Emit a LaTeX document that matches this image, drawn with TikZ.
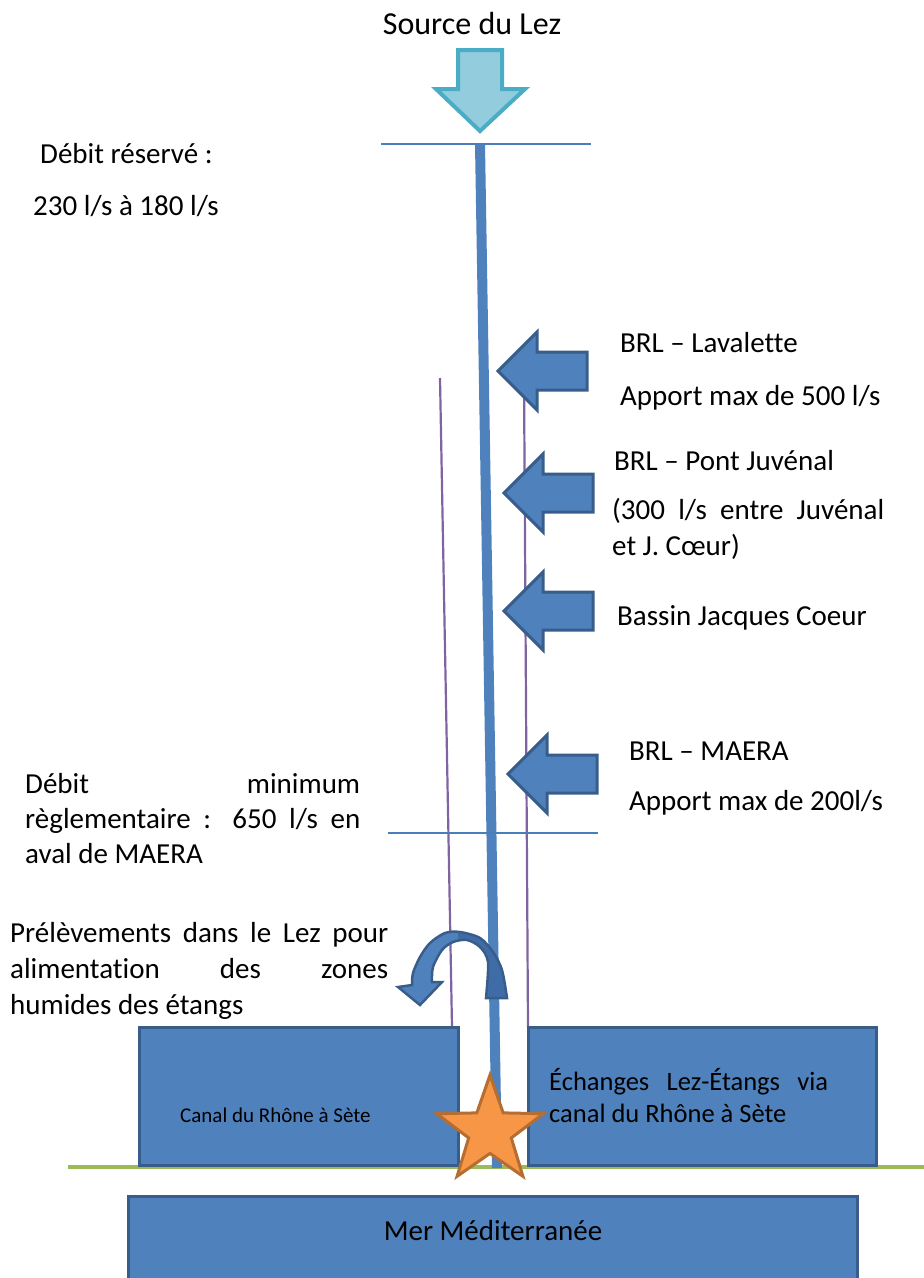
\documentclass[tikz,border=0pt]{standalone}
\usepackage{fontspec}
\setmainfont{Carlito}[Ligatures=NoCommon]
\usetikzlibrary{shapes.geometric}
\definecolor{bfill}{HTML}{4F81BD}
\definecolor{bline}{HTML}{385D8A}
\definecolor{lfill}{HTML}{93CDDD}
\definecolor{lline}{HTML}{4BACC6}
\definecolor{purp}{HTML}{8064A2}
\definecolor{grn}{HTML}{9BBB59}
\definecolor{orfill}{HTML}{F79646}
\definecolor{orline}{HTML}{B66D31}
\definecolor{hline}{HTML}{4A7EBB}
\definecolor{curvdark}{HTML}{3F6CA6}
\tikzset{
  txt/.style={anchor=base west, inner sep=0pt, font=\fontsize{29}{35}\selectfont},
  boxshape/.style={fill=bfill, draw=bline, line width=3pt},
  arrowfill/.style={fill=bfill, draw=bline, line width=3pt, line join=miter},
  pics/blockarrow/.style={code={
    \draw[arrowfill] (0,0) -- (39,-39) -- (39,-19) -- (89,-19) -- (89,19) -- (39,19) -- (39,39) -- cycle;}},
  thinline/.style={draw=hline, line width=1.5pt},
  purpline/.style={draw=purp, line width=2.2pt},
}
\begin{document}
\begin{tikzpicture}[x=1pt,y=-1pt]
\useasboundingbox (0,0) rectangle (924,1278);
\clip (0,0) rectangle (924,1278);

% coordinates
\coordinate (rtop) at (480,144);
\coordinate (rbot) at (497,1168);
\coordinate (h1a) at (381,144);
\coordinate (h1b) at (591,144);
\coordinate (h2a) at (388,833);
\coordinate (h2b) at (598,833);
\coordinate (pla) at (440,378);
\coordinate (plb) at (452,1027);
\coordinate (pra) at (524,378);
\coordinate (prb) at (528,1027);
\coordinate (ga) at (68,1167);
\coordinate (gb) at (924,1167);

% green coast line
\draw[draw=grn, line width=4pt] (ga) -- (gb);

% purple banks
\draw[purpline] (pla) -- (plb);
\draw[purpline] (pra) -- (prb);

% river
\draw[draw=bfill, line width=10pt] (rtop) -- (rbot);

% horizontal lines
\draw[thinline] (h1a) -- (h1b);
\draw[thinline] (h2a) -- (h2b);

% source arrow
\draw[fill=lfill, draw=lline, line width=4pt, line join=miter]
  (458,50) -- (502,50) -- (502,89) -- (525,89) -- (480,131) -- (436,89) -- (458,89) -- cycle;
\node[anchor=base, inner sep=0pt, font=\fontsize{32}{38}\selectfont] (src) at (472,34) {Source du Lez};

% inflow arrows
\pic at (498,371) {blockarrow};
\pic at (504,493) {blockarrow};
\pic at (504,611) {blockarrow};
\pic at (508,774) {blockarrow};

% texts
\node[txt] (t1) at (40,163) {Débit réservé :};
\node[txt] (t2) at (33,215) {230 l/s à 180 l/s};
\node[txt] (t3) at (620,352) {BRL – Lavalette};
\node[txt] (t4) at (620,405) {Apport max de 500 l/s};
\node[txt] (t5) at (614,470) {BRL – Pont Juvénal};
\node[txt] (t6) at (612,519) {\makebox[272pt][s]{(300 l/s entre Juvénal}};
\node[txt] (t7) at (612,555) {et J. Cœur)};
\node[txt] (t8) at (617,625) {Bassin Jacques Coeur};
\node[txt] (t9) at (629,760) {BRL – MAERA};
\node[txt] (t10) at (629,810) {Apport max de 200l/s};
\node[txt] (t11) at (25,793) {\makebox[335pt][s]{Débit minimum}};
\node[txt] (t12) at (25,828) {\makebox[335pt][s]{règlementaire : 650 l/s en}};
\node[txt] (t13) at (25,863) {aval de MAERA};
\node[txt] (t14) at (10,942) {\makebox[378pt][s]{Prélèvements dans le Lez pour}};
\node[txt] (t15) at (10,978) {\makebox[378pt][s]{alimentation des zones}};
\node[txt] (t16) at (10,1014) {humides des étangs};

% curved arrow
\def\curvpath{plot[smooth] coordinates {(507,998) (502,970) (493,952) (480,938) (460,932) (445,933) (430,943) (420,957) (413,973) (412,985)}
  -- (398,987) -- (420,1005) -- (442,982) -- (432,982)
  -- plot[smooth] coordinates {(432,982) (433,967) (442,950) (453,942) (467,940) (480,947) (488,962) (486,998)}
  -- cycle}
\fill[bfill] \curvpath;
\begin{scope}
  \clip \curvpath;
  \fill[curvdark] (458,920) rectangle (520,1010);
\end{scope}
\draw[draw=bline, line width=2.5pt, line join=miter] \curvpath;

% boxes
\draw[boxshape] (139,1027) rectangle (458,1165);
\draw[boxshape] (528,1027) rectangle (876,1165);
\draw[boxshape] (128,1196) rectangle (857,1300);
\node[anchor=base west, inner sep=0pt, font=\fontsize{21}{25}\selectfont] (canal) at (180,1122) {Canal du Rhône à Sète};
\node[anchor=base west, inner sep=0pt, font=\fontsize{26.5}{32}\selectfont] (ech1) at (549,1090) {\makebox[279pt][s]{Échanges Lez-Étangs via}};
\node[anchor=base west, inner sep=0pt, font=\fontsize{26.5}{32}\selectfont] (ech2) at (549,1122) {canal du Rhône à Sète};
\node[anchor=base, inner sep=0pt, font=\fontsize{29}{35}\selectfont] (mer) at (493,1240) {Mer Méditerranée};

% star
\node[star, star points=5, star point ratio=2.5, minimum size=112pt, inner sep=0pt,
      fill=orfill, draw=orline, line width=3pt] (junction) at (490,1131) {};
\end{tikzpicture}
\end{document}
